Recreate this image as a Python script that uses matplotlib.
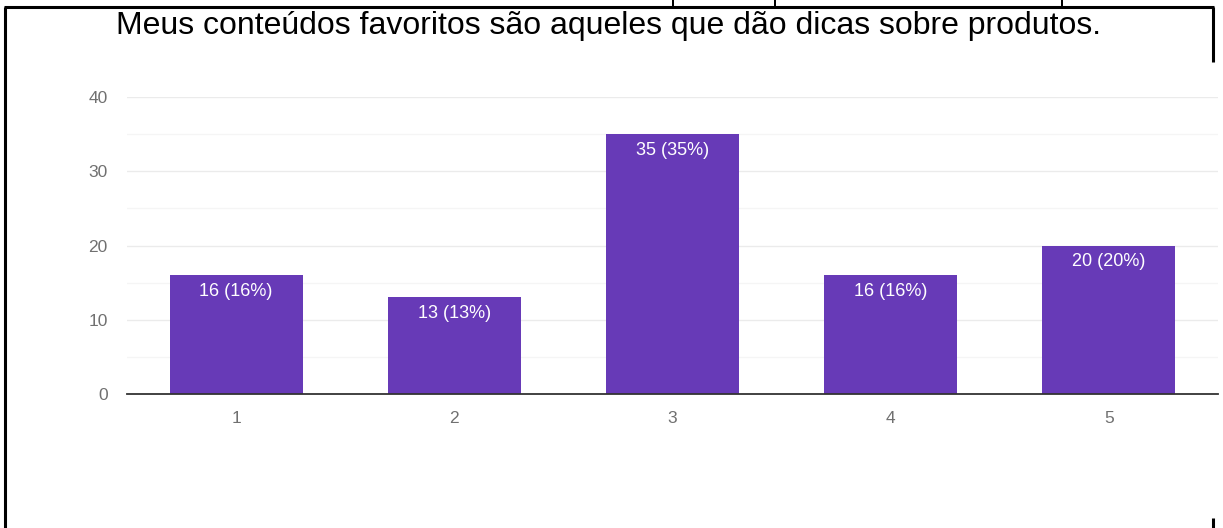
import matplotlib.pyplot as plt
from matplotlib.lines import Line2D
from matplotlib.patches import Rectangle

plt.rcParams['font.family'] = ['Liberation Sans', 'DejaVu Sans']

title = 'Meus conteúdos favoritos são aqueles que dão dicas sobre produtos.'
categories = ['1', '2', '3', '4', '5']
counts = [16, 13, 35, 16, 20]
percents = [16, 13, 35, 16, 20]
yticks = [0, 10, 20, 30, 40]

W, H = 1223, 528
fig = plt.figure(figsize=(W / 100, H / 100), dpi=100)
ax = fig.add_axes([127 / W, (H - 394) / H, (1218 - 127) / W, (394 - 97) / H])

x = list(range(1, len(categories) + 1))
bars = ax.bar(x, counts, width=0.61, color='#673ab7', zorder=3)
for b, c, p in zip(bars, counts, percents):
    ax.annotate('{} ({}%)'.format(c, p), (b.get_x() + b.get_width() / 2, c),
                xytext=(0, -5.5), textcoords='offset points', ha='center', va='top',
                color='white', fontsize=13, zorder=4)

ax.set_xlim(0.5, 5.5)
ax.set_ylim(0, 40)
ax.set_xticks(x)
ax.set_xticklabels(categories)
ax.set_yticks(yticks)
ax.set_yticks([5, 15, 25, 35], minor=True)
ax.tick_params(axis='both', which='both', length=0, colors='#707070', labelsize=12.5)
ax.tick_params(axis='y', pad=14)
ax.tick_params(axis='x', pad=12)
ax.grid(axis='y', which='major', color='#ebebeb', lw=1, zorder=0)
ax.grid(axis='y', which='minor', color='#f5f5f5', lw=1, zorder=0)
for s in ['top', 'right', 'left']:
    ax.spines[s].set_visible(False)
ax.spines['bottom'].set_color('#333333')
ax.spines['bottom'].set_linewidth(1.3)
ax.spines['bottom'].set_zorder(5)

fig.text(608 / W, 1 - 34 / H, title, ha='center', va='baseline', fontsize=23, color='black')

# frame around the picture
def px_line(xs, ys, lw=2.2):
    fig.add_artist(Line2D([v / W for v in xs], [1 - v / H for v in ys],
                          color='black', lw=lw, solid_capstyle='butt'))

px_line([4, 1214], [7, 7])
px_line([5, 5], [7, 528])
px_line([1213, 1213], [7, 62])
px_line([1213, 1213], [518, 528])
# descender stubs of the line above (2 px wide, top 7 px)
for xp in [673, 775, 1062]:
    fig.add_artist(Rectangle(((xp - 1) / W, 1 - 7 / H), 2 / W, 7 / H,
                             transform=fig.transFigure, color='black', lw=0))

fig.savefig('out.png', dpi=100)
